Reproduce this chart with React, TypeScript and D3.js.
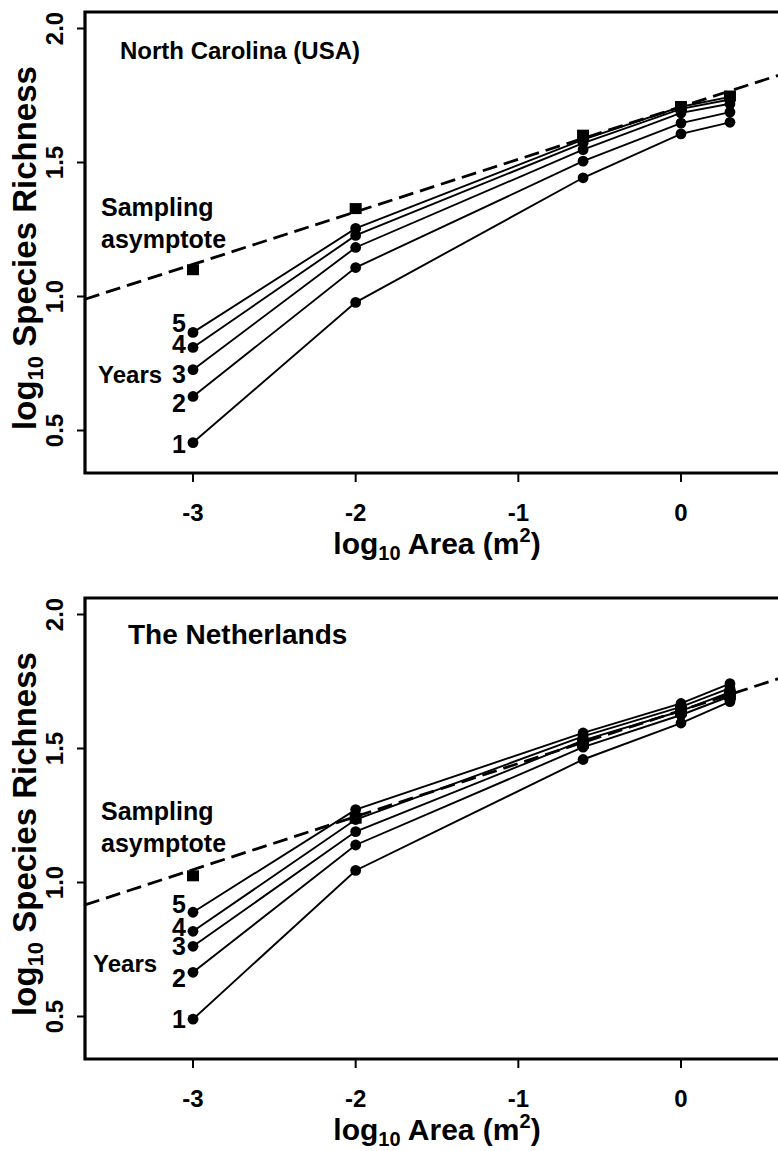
import React from 'react';
import * as d3 from 'd3';

// ---- data ----
const logArea = [-3, -2, -0.602, 0, 0.301];
const yearNames = ['1', '2', '3', '4', '5'];

const ncYear1 = [0.455, 0.978, 1.443, 1.607, 1.65];
const ncYear2 = [0.627, 1.108, 1.505, 1.647, 1.688];
const ncYear3 = [0.727, 1.183, 1.548, 1.685, 1.719];
const ncYear4 = [0.81, 1.228, 1.572, 1.7, 1.735];
const ncYear5 = [0.866, 1.254, 1.585, 1.708, 1.745];
const ncAsymptote = [1.1, 1.328, 1.602, 1.709, 1.748];
const ncAsymLine = [1.708, 0.196]; // intercept, slope

const nlYear1 = [0.49, 1.045, 1.459, 1.595, 1.675];
const nlYear2 = [0.665, 1.14, 1.505, 1.625, 1.695];
const nlYear3 = [0.762, 1.19, 1.53, 1.64, 1.71];
const nlYear4 = [0.818, 1.235, 1.545, 1.655, 1.725];
const nlYear5 = [0.889, 1.272, 1.558, 1.668, 1.742];
const nlAsymptote = [1.025, 1.24, 1.52, 1.64, 1.7];
const nlAsymLine = [1.642, 0.198];

const xTicks = [-3, -2, -1, 0];
const xTickLabels = ['-3', '-2', '-1', '0'];
const yTicks = [0.5, 1.0, 1.5, 2.0];
const yTickLabels = ['0.5', '1.0', '1.5', '2.0'];

const FONT = "'Liberation Sans', Arial, Helvetica, sans-serif";

type PanelProps = {
  dy: number;
  title: string;
  titleX: number;
  titleY: number;
  titleSize: number;
  series: number[][];
  asym: number[];
  asymLine: number[];
  yearLabelDy: number[];
  yearsPos: number[];
  samplingY: number;
};

function Panel(p: PanelProps) {
  const x = d3.scaleLinear().domain([-3, 0]).range([193, 681]);
  const y = d3.scaleLinear().domain([0.5, 2.0]).range([430.5, 28.5]);
  const boxL = 85, boxT = 12, boxB = 473, boxR = 800;
  const line = d3
    .line<number>()
    .x((_, i) => x(logArea[i]))
    .y((d) => y(d));
  const xa = x.invert(boxL);
  const xb = x.invert(boxR);
  const [a, b] = p.asymLine;
  return (
    <g transform={`translate(0,${p.dy})`} fontFamily={FONT} fontWeight="bold">
      {/* frame */}
      <path d={`M${boxR},${boxT}H${boxL}V${boxB}H${boxR}`} fill="none" stroke="#000" strokeWidth={3.2} />
      {/* x ticks */}
      {xTicks.map((t, i) => (
        <g key={'x' + t}>
          <line x1={x(t)} x2={x(t)} y1={boxB} y2={boxB + 9} stroke="#000" strokeWidth={2} />
          <text x={x(t)} y={boxB + 48} textAnchor="middle" fontSize={24}>
            {xTickLabels[i]}
          </text>
        </g>
      ))}
      {/* y ticks */}
      {yTicks.map((t, i) => (
        <g key={'y' + t}>
          <line x1={boxL - 8} x2={boxL} y1={y(t)} y2={y(t)} stroke="#000" strokeWidth={2} />
          <text transform={`translate(63,${y(t)}) rotate(-90)`} textAnchor="middle" fontSize={24}>
            {yTickLabels[i]}
          </text>
        </g>
      ))}
      {/* axis titles */}
      <text x={437} y={554} textAnchor="middle" fontSize={30}>
        log<tspan fontSize={20} dy={6}>10</tspan>
        <tspan dy={-6}> Area (m</tspan>
        <tspan fontSize={20} dy={-12}>2</tspan>
        <tspan dy={12}>)</tspan>
      </text>
      <text transform={`translate(36,248) rotate(-90)`} textAnchor="middle" fontSize={33}>
        log<tspan fontSize={22} dy={7}>10</tspan>
        <tspan dy={-7}> Species Richness</tspan>
      </text>
      {/* panel title */}
      <text x={p.titleX} y={p.titleY} fontSize={p.titleSize}>
        {p.title}
      </text>
      {/* asymptote line */}
      <line
        x1={x(xa)}
        y1={y(a + b * xa)}
        x2={x(xb)}
        y2={y(a + b * xb)}
        stroke="#000"
        strokeWidth={2.8}
        strokeDasharray="15 7"
      />
      {/* year lines */}
      {p.series.map((s, i) => (
        <path key={'l' + i} d={line(s) || ''} fill="none" stroke="#000" strokeWidth={1.9} />
      ))}
      {/* asymptote squares */}
      {p.asym.map((v, i) => (
        <rect key={'s' + i} x={x(logArea[i]) - 6} y={y(v) - 5.5} width={12} height={11} fill="#000" />
      ))}
      {/* dots */}
      {p.series.map((s, i) =>
        s.map((v, j) => <circle key={'c' + i + '-' + j} cx={x(logArea[j])} cy={y(v)} r={5.4} fill="#000" />)
      )}
      {/* year labels */}
      {p.series.map((s, i) => (
        <text key={'yl' + i} x={x(-3) - 7} y={y(s[0]) + p.yearLabelDy[i]} textAnchor="end" fontSize={25}>
          {yearNames[i]}
        </text>
      ))}
      <text x={p.yearsPos[0]} y={p.yearsPos[1]} fontSize={24}>
        Years
      </text>
      <text x={101} y={p.samplingY} fontSize={25}>
        Sampling
      </text>
      <text x={101} y={p.samplingY + 32} fontSize={25}>
        asymptote
      </text>
    </g>
  );
}

export default function App() {
  return (
    <svg
      width={778}
      height={1151}
      style={{ position: 'absolute', left: 0, top: 0, background: '#fff' }}
    >
      <rect width={778} height={1151} fill="#fff" />
      <Panel
        dy={0}
        title="North Carolina (USA)"
        titleX={120}
        titleY={59}
        titleSize={24}
        series={[ncYear1, ncYear2, ncYear3, ncYear4, ncYear5]}
        asym={ncAsymptote}
        asymLine={ncAsymLine}
        yearLabelDy={[10, 16, 13, 6, 0]}
        yearsPos={[98, 383]}
        samplingY={216}
      />
      <Panel
        dy={586}
        title="The Netherlands"
        titleX={128}
        titleY={58}
        titleSize={28}
        series={[nlYear1, nlYear2, nlYear3, nlYear4, nlYear5]}
        asym={nlAsymptote}
        asymLine={nlAsymLine}
        yearLabelDy={[9, 15, 9, 5, 1]}
        yearsPos={[93, 386]}
        samplingY={234}
      />
    </svg>
  );
}
